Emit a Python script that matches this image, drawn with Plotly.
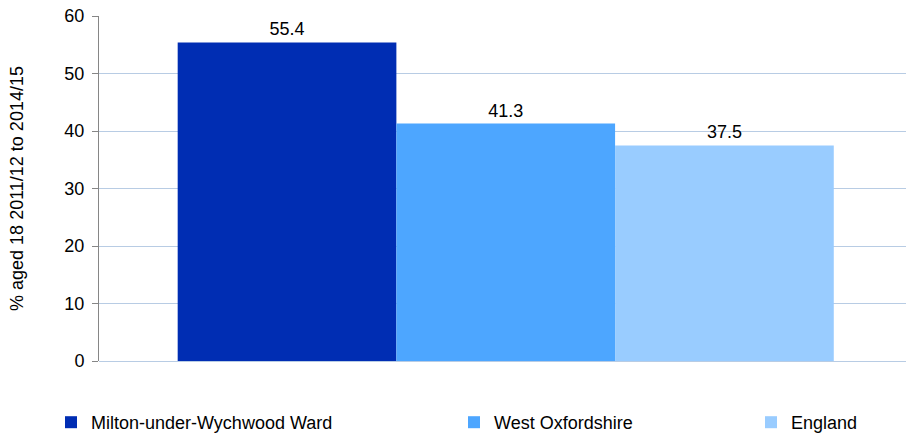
import plotly.graph_objects as go

category = ["% aged 18"]
series_names = ["Milton-under-Wychwood Ward", "West Oxfordshire", "England"]
series_values = [55.4, 41.3, 37.5]
series_colors = ["#002DB3", "#4DA6FF", "#99CCFF"]
y_ticks = [0, 10, 20, 30, 40, 50, 60]
y_title = "% aged 18 2011/12 to 2014/15"

FONT = "Liberation Sans, Arial, sans-serif"
legend_ids = ["legend", "legend2", "legend3"]

fig = go.Figure()
for name, val, col, lg in zip(series_names, series_values, series_colors, legend_ids):
    fig.add_trace(go.Bar(
        x=category, y=[val], name=name, marker=dict(color=col, line=dict(width=0)),
        text=[f"{val:.1f}"], textposition="outside", cliponaxis=False,
        textfont=dict(family=FONT, size=18, color="#000000"),
        legend=lg,
    ))

W, H = 906, 435
L, R, T, B = 99, 0, 16, 435 - 361
pw = W - L - R
ph = H - T - B

def px2paper(px):
    return (px - L) / pw

legend_common = dict(orientation="h", yanchor="bottom", y=(H - B - 441) / ph,
                     xanchor="left",
                     font=dict(family=FONT, size=18, color="#000000"),
                     bgcolor="rgba(0,0,0,0)", itemwidth=30, itemclick=False)

fig.update_layout(
    width=W, height=H,
    margin=dict(l=L, r=R, t=T, b=B, autoexpand=False),
    paper_bgcolor="white", plot_bgcolor="white",
    barmode="group", bargap=0.187, bargroupgap=0,
    font=dict(family=FONT, size=18, color="#000000"),
    showlegend=True,
    legend=dict(x=px2paper(51), **legend_common),
    legend2=dict(x=px2paper(454), **legend_common),
    legend3=dict(x=px2paper(751), **legend_common),
    xaxis=dict(showticklabels=False, showline=False, ticks="", showgrid=False,
               range=[-0.504, 0.496], zeroline=False, automargin=False),
    yaxis=dict(range=[0, 60], tickvals=y_ticks, ticks="outside", ticklen=6,
               tickcolor="#868686", showline=True, linecolor="#868686", linewidth=1,
               showgrid=True, gridcolor="#B8CCE4", gridwidth=1,
               zeroline=True, zerolinecolor="#B8CCE4", zerolinewidth=1,
               tickfont=dict(family=FONT, size=18, color="#000000"),
               ticklabelstandoff=4, automargin=False, ticklabeloverflow="allow",
               title=dict(text=y_title, font=dict(family=FONT, size=18, color="#000000"),
                          standoff=36)),
)

fig.write_html("out.html", config={"displayModeBar": False},
               post_script="document.body.style.margin='0px';document.body.style.overflow='hidden';")
